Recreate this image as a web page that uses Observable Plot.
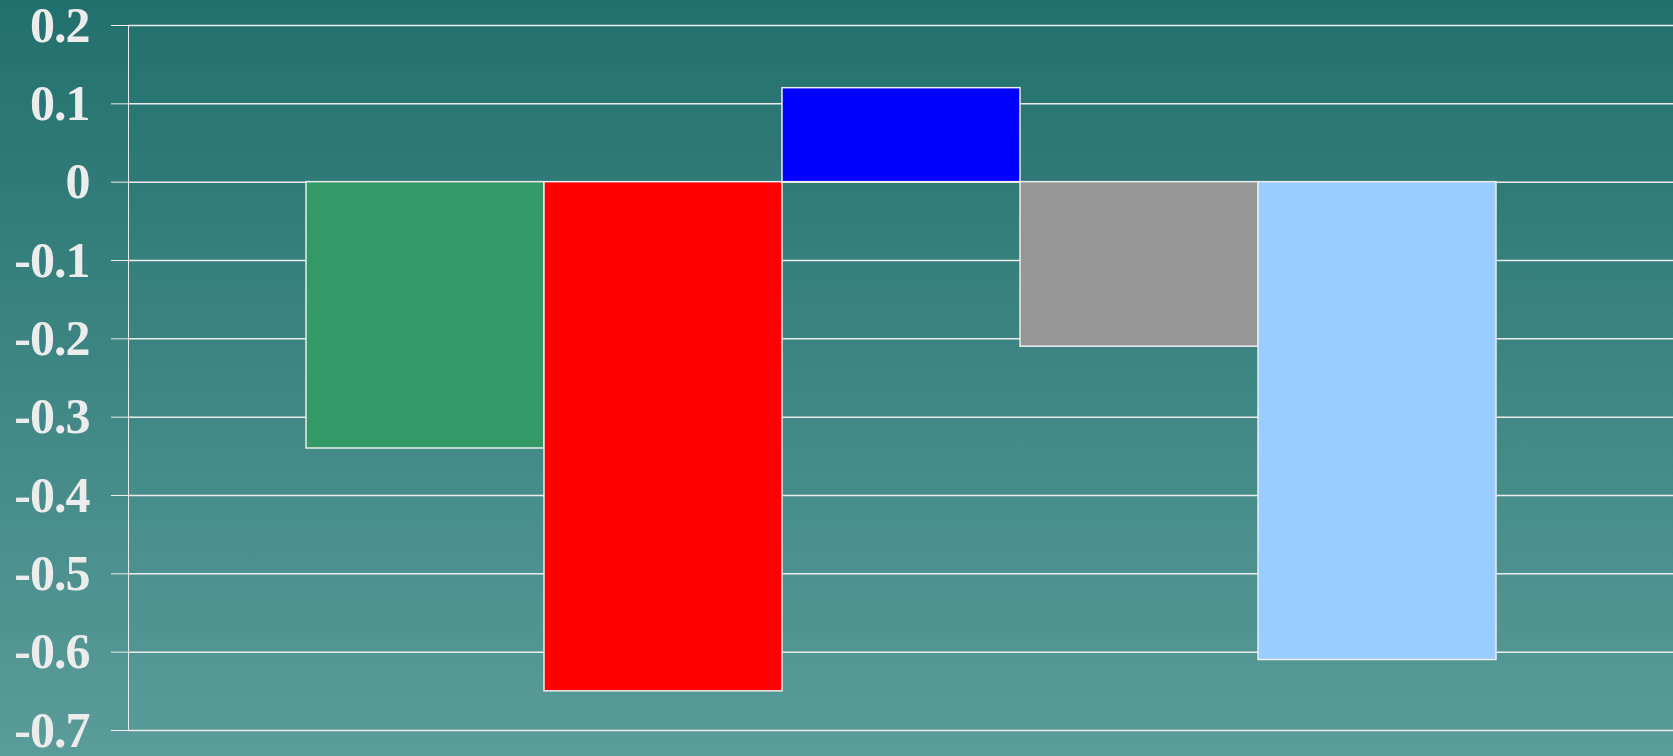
<!DOCTYPE html>
<html>
<head>
<meta charset="utf-8">
<script src="https://cdn.jsdelivr.net/npm/d3@7"></script>
<script src="https://cdn.jsdelivr.net/npm/@observablehq/plot@0.6"></script>
<style>
html, body { margin: 0; padding: 0; width: 1673px; height: 756px; overflow: hidden; }
body { background: linear-gradient(to bottom, #22706d 0%, #5a9c9a 100%); }
#chart svg { display: block; }
#chart svg text { letter-spacing: -1px; }
</style>
</head>
<body>
<div id="chart"></div>
<script>
const categories = ["A", "B", "C", "D", "E"];
const values = [-0.34, -0.65, 0.12, -0.21, -0.61];
const barColors = ["#339966", "#ff0000", "#0000ff", "#969696", "#99ccff"];
const yTicks = [0.2, 0.1, 0, -0.1, -0.2, -0.3, -0.4, -0.5, -0.6, -0.7];

const data = categories.map((c, i) => ({category: c, value: values[i]}));

const chart = Plot.plot({
  width: 1673,
  height: 756,
  marginTop: 25,
  marginBottom: 26,
  marginLeft: 128,
  marginRight: 0,
  style: {
    background: "transparent",
    color: "#ececec",
    fontFamily: "'Liberation Serif', 'Times New Roman', serif",
    fontWeight: "bold",
    fontSize: "50px",
    overflow: "visible"
  },
  x: {domain: categories, paddingInner: 0, paddingOuter: 0.745, axis: null},
  y: {
    domain: [-0.7, 0.2],
    ticks: yTicks,
    tickFormat: d => String(d),
    tickSize: 17,
    tickPadding: 22,
    label: null,
    line: true
  },
  color: {domain: categories, range: barColors},
  marks: [
    Plot.ruleY(yTicks, {stroke: "#ececec", strokeWidth: 1.5}),
    Plot.barY(data, {x: "category", y: "value", fill: "category", stroke: "#ececec", strokeWidth: 1.5})
  ]
});
document.getElementById("chart").appendChild(chart);
</script>
</body>
</html>
